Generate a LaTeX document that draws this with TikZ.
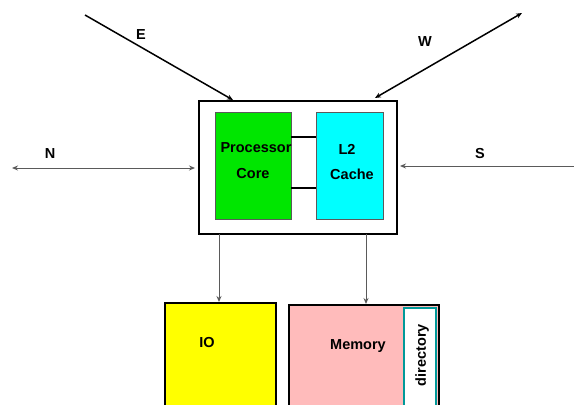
\documentclass[tikz,border=0pt]{standalone}
\usepackage{fontspec}
\setmainfont{Liberation Sans}
\usetikzlibrary{arrows.meta}
\definecolor{coregreen}{RGB}{0,230,0}
\definecolor{cachecyan}{RGB}{0,255,255}
\definecolor{ioyellow}{RGB}{255,255,0}
\definecolor{mempink}{RGB}{255,187,187}
\definecolor{dirteal}{RGB}{0,153,153}
\definecolor{linegray}{RGB}{90,90,90}
\begin{document}
\begin{tikzpicture}[x=1pt,y=-1pt,
  txt/.style={font=\bfseries\fontsize{14.5}{16}\selectfont, inner sep=0pt},
  thickbox/.style={draw=black, line width=2pt, inner sep=0pt},
  innerbox/.style={draw=linegray, line width=0.8pt, inner sep=0pt},
  tip/.style={-{Stealth[length=6pt,width=5pt]}},
  bitip/.style={{Stealth[length=6pt,width=5pt]}-{Stealth[length=6pt,width=5pt]}},
  link/.style={line width=1.5pt, black},
  thinlink/.style={line width=1pt, linegray}]
\useasboundingbox (0,0) rectangle (574,405);
% main chip box
\node[thickbox, fill=white, minimum width=198pt, minimum height=133pt] (chip) at (298,167.5) {};
\node[innerbox, fill=coregreen, minimum width=76pt, minimum height=107pt] (core) at (253,165.5) {};
\node[innerbox, fill=cachecyan, minimum width=67pt, minimum height=107pt] (cache) at (349.5,165.5) {};
\node[txt] (tproc) at (256,148) {Processor};
\node[txt] (tcore) at (253,174) {Core};
\node[txt] (tl2) at (347,149) {L2};
\node[txt] (tcache) at (352,174) {Cache};
\draw[line width=2pt] (core.east |- 0,137) -- (cache.west |- 0,137);
\draw[line width=2pt] (core.east |- 0,188) -- (cache.west |- 0,188);
% bottom boxes
\node[thickbox, fill=ioyellow, minimum width=111pt, minimum height=112pt] (io) at (220.5,359) {};
\node[thickbox, fill=mempink, minimum width=150pt, minimum height=110pt] (mem) at (364,360) {};
\node[draw=dirteal, line width=2pt, fill=white, inner sep=0pt, minimum width=32pt, minimum height=110pt] (dir) at (420,363) {};
\node[txt] (tio) at (207,343) {IO};
\node[txt] (tmem) at (358,346) {Memory};
\node[txt, rotate=90] (tdir) at (422,355) {directory};
% vertical arrows
\coordinate (d1) at (219,234);
\coordinate (d2) at (366,234);
\draw[thinlink, tip] (d1) -- (d1 |- io.north);
\draw[thinlink, tip] (d2) -- (d2 |- mem.north);
% network links
\coordinate (nend) at (12,168);
\coordinate (nin) at (195,168);
\coordinate (send) at (574,166);
\coordinate (sin) at (400,166);
\coordinate (eend) at (85,15);
\coordinate (ein) at (233,100);
\coordinate (wend) at (522,13);
\coordinate (win) at (375,98);
\draw[thinlink, bitip] (nend) -- (nin);
\draw[thinlink, tip] (send) -- (sin);
\draw[link, tip] (eend) -- (ein);
\draw[link, bitip] (win) -- (wend);
\node[txt] (le) at (141,35) {E};
\node[txt] (lw) at (425,42) {W};
\node[txt] (ln) at (50,154) {N};
\node[txt] (ls) at (480,154) {S};
\end{tikzpicture}
\end{document}
